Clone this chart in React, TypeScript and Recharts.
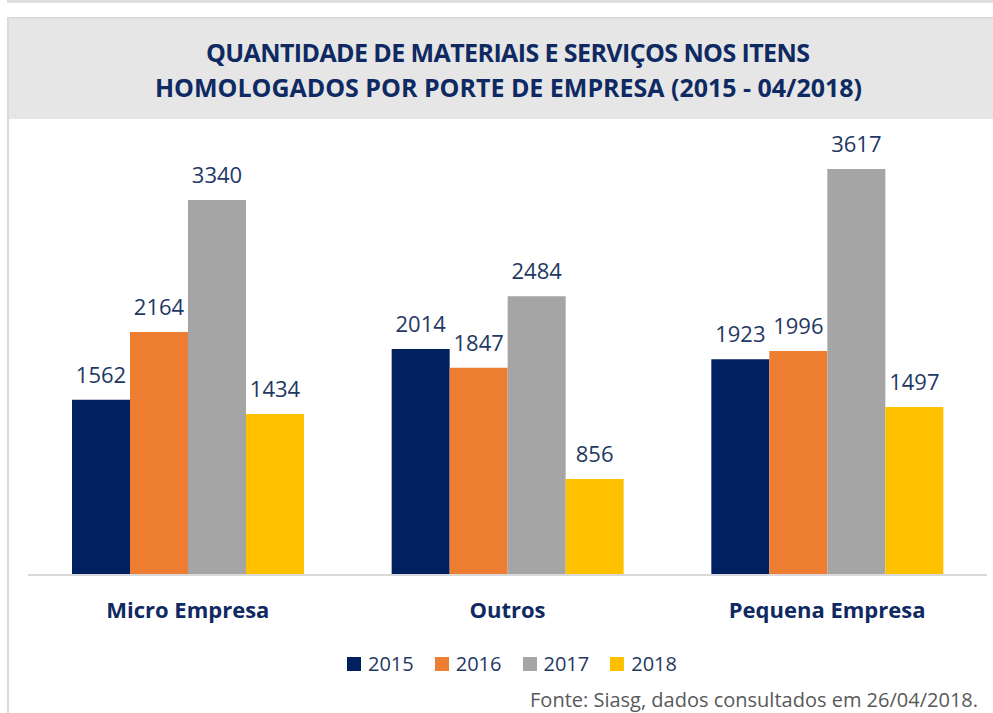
import React from 'react';
import { BarChart, Bar, XAxis, YAxis, LabelList, Legend } from 'recharts';

const categories = ['Micro Empresa', 'Outros', 'Pequena Empresa'];
const seriesNames = ['2015', '2016', '2017', '2018'];
const values2015 = [1562, 2014, 1923];
const values2016 = [2164, 1847, 1996];
const values2017 = [3340, 2484, 3617];
const values2018 = [1434, 856, 1497];
const seriesColors = ['#002060', '#ED7D31', '#A5A5A5', '#FFC000'];
const titleLines = [
  'QUANTIDADE DE MATERIAIS E SERVIÇOS NOS ITENS',
  'HOMOLOGADOS POR PORTE DE EMPRESA (2015 - 04/2018)',
];
const sourceText = 'Fonte: Siasg, dados consultados em 26/04/2018.';

const allSeries = [values2015, values2016, values2017, values2018];
const data = categories.map((c, i) => {
  const row: Record<string, any> = { category: c };
  seriesNames.forEach((s, k) => {
    row['y' + s] = allSeries[k][i];
  });
  return row;
});

const FONT = '"Open Sans", "Noto Sans", sans-serif';
const NAVY = '#0F2A62';
const LABEL = '#1F3864';

const renderLegend = (props: any) => {
  const { payload } = props;
  return (
    <div style={{ display: 'flex', fontFamily: FONT, fontSize: 20, lineHeight: '20px', color: LABEL }}>
      {(payload || []).map((e: any, i: number) => (
        <div key={i} style={{ display: 'flex', alignItems: 'center', marginRight: i < payload.length - 1 ? 21 : 0 }}>
          <span style={{ display: 'inline-block', width: 14, height: 14, background: e.color, marginRight: 7 }} />
          <span>{e.value}</span>
        </div>
      ))}
    </div>
  );
};

export default function App() {
  return (
    <div style={{ position: 'fixed', left: 0, top: 0, width: 993, height: 713, overflow: 'hidden', background: '#fff' }}>
      <svg width={993} height={713} style={{ position: 'absolute', left: 0, top: 0 }}>
        <rect x={7} y={0} width={986} height={3} fill="#dedede" />
        <rect x={7} y={17} width={986} height={102} fill="#e6e6e6" />
        <rect x={7} y={17} width={986} height={1.5} fill="#d9d9d9" />
        <rect x={7} y={17} width={2} height={696} fill="#d9d9d9" />
        <text x={508} y={61.5} textAnchor="middle" fontFamily={FONT} fontWeight={700} fontSize={25} fill={NAVY} textLength={604} lengthAdjust="spacing">
          {titleLines[0]}
        </text>
        <text x={508.5} y={97} textAnchor="middle" fontFamily={FONT} fontWeight={700} fontSize={25} fill={NAVY} textLength={707} lengthAdjust="spacing">
          {titleLines[1]}
        </text>
        <text x={978} y={707} textAnchor="end" fontFamily={FONT} fontSize={20} fill="#595959">
          {sourceText}
        </text>
      </svg>
      <div style={{ position: 'absolute', left: 0, top: 0 }}>
        <BarChart
          width={993}
          height={713}
          data={data}
          margin={{ top: 126, right: 6, bottom: 78, left: 28 }}
          barGap={0}
          style={{ background: 'transparent' }}
        >
          <XAxis
            dataKey="category"
            height={60}
            axisLine={{ stroke: '#d9d9d9', strokeWidth: 2 }}
            tickLine={false}
            tickSize={0}
            tickMargin={27}
            tick={{ fontFamily: FONT, fontWeight: 700, fontSize: 22, fill: NAVY }}
            interval={0}
          />
          <YAxis hide domain={[0, 4000]} />
          <Legend
            layout="horizontal"
            verticalAlign="middle"
            align="center"
            content={renderLegend}
            wrapperStyle={{ left: 347, top: 654, width: 400 }}
          />
          {seriesNames.map((s, k) => (
            <Bar key={s} dataKey={'y' + s} name={s} fill={seriesColors[k]} barSize={58} isAnimationActive={false}>
              <LabelList dataKey={'y' + s} position="top" offset={17} fill={LABEL} fontFamily={FONT} fontSize={22} />
            </Bar>
          ))}
        </BarChart>
      </div>
    </div>
  );
}
